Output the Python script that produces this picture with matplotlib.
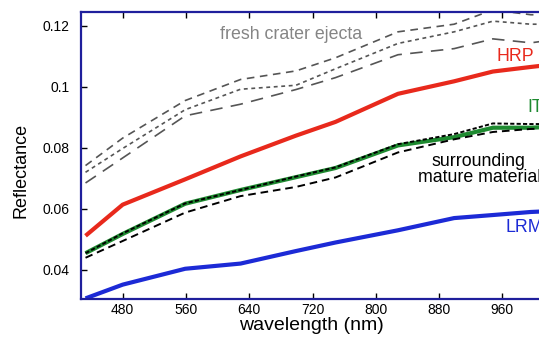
import matplotlib

matplotlib.use("Agg")
import matplotlib.pyplot as plt
from matplotlib.ticker import FuncFormatter

plt.rcParams["font.family"] = ["Liberation Sans", "DejaVu Sans"]
plt.rcParams["lines.scale_dashes"] = False

# MDIS filter wavelengths (nm)
wavelength = [433, 480, 559, 629, 699, 749, 828, 899, 948, 996, 1013]

# colour units (reflectance)
hrp = [0.0512, 0.0614, 0.0697, 0.0772, 0.0840, 0.0885, 0.0977, 0.1018, 0.1050, 0.1065, 0.1070]
itp = [0.0455, 0.0518, 0.0617, 0.0662, 0.0704, 0.0734, 0.0808, 0.0835, 0.0866, 0.0866, 0.0868]
lrm = [0.0307, 0.0352, 0.0404, 0.0421, 0.0462, 0.0490, 0.0530, 0.0570, 0.0580, 0.0590, 0.0592]

# surrounding mature material
mature_a = [0.0455, 0.0520, 0.0618, 0.0662, 0.0706, 0.0736, 0.0812, 0.0845, 0.0880, 0.0878, 0.0878]
mature_b = [0.0440, 0.0495, 0.0588, 0.0642, 0.0672, 0.0703, 0.0785, 0.0828, 0.0852, 0.0862, 0.0863]

# fresh crater ejecta
fresh_a = [0.0742, 0.0832, 0.0955, 0.1024, 0.1052, 0.1095, 0.1180, 0.1205, 0.1252, 0.1236, 0.1236]
fresh_b = [0.0720, 0.0798, 0.0925, 0.0992, 0.1005, 0.1059, 0.1142, 0.1180, 0.1215, 0.1205, 0.1205]
fresh_c = [0.0685, 0.0767, 0.0905, 0.0943, 0.0991, 0.1030, 0.1105, 0.1125, 0.1157, 0.1144, 0.1150]

xticks = [480, 560, 640, 720, 800, 880, 960]
yticks = [0.04, 0.06, 0.08, 0.1, 0.12]

navy = "#1f1f9c"

fig = plt.figure(figsize=(5.39, 3.37), dpi=100)
# axes runs past the right edge of the figure (cropped like the original)
ax = fig.add_axes([0.1503, 0.1128, 0.8698, 0.8516])

ax.plot(wavelength, fresh_a, color="#555555", lw=1.2, linestyle=(0, (5.5, 4.0)))
ax.plot(wavelength, fresh_b, color="#555555", lw=1.2, linestyle=(0, (2.8, 2.6)))
ax.plot(wavelength, fresh_c, color="#555555", lw=1.2, linestyle=(0, (9.0, 6.0)))

ax.plot(wavelength, hrp, color="#e8291c", lw=3.0, solid_capstyle="butt")
ax.plot(wavelength, itp, color="#1e8a30", lw=3.0, solid_capstyle="butt")
ax.plot(wavelength, lrm, color="#1c2ad6", lw=3.0, solid_capstyle="butt")

ax.plot(wavelength, mature_a, color="black", lw=1.4, linestyle=(0, (3.0, 1.6)))
ax.plot(wavelength, mature_b, color="black", lw=1.4, linestyle=(0, (5.5, 3.5)))

ax.set_xticks(xticks)
ax.set_yticks(yticks)
ax.set_xlim(427.3, 1020)
ax.set_ylim(0.0305, 0.1245)
ax.yaxis.set_major_formatter(FuncFormatter(lambda v, p: f"{v:g}"))
ax.tick_params(direction="in", top=True, right=True, length=4, width=1,
               labelsize=10, colors="black")
ax.tick_params(axis="y", pad=8)
ax.tick_params(axis="x", pad=3)
for sp in ax.spines.values():
    sp.set_color(navy)
    sp.set_linewidth(1.6)

ax.text(603, 0.1171, "fresh crater ejecta", color="#858585", fontsize=12.8, va="center")
ax.text(952, 0.1099, "HRP", color="#e8291c", fontsize=12.8, va="center")
ax.text(992, 0.0932, "ITP", color="#1e8a30", fontsize=12.8, va="center")
ax.text(871, 0.0755, "surrounding", color="black", fontsize=12.8, va="center")
ax.text(853, 0.0703, "mature material", color="black", fontsize=12.8, va="center")
ax.text(964, 0.0539, "LRM", color="#1c2ad6", fontsize=12.8, va="center")

fig.text(21 / 539, 1 - 170 / 337, "Reflectance", rotation=90, fontsize=13,
         ha="center", va="center")
fig.text(311 / 539, 1 - 325 / 337, "wavelength (nm)", fontsize=14,
         ha="center", va="center")

fig.savefig("out.png", dpi=100)
